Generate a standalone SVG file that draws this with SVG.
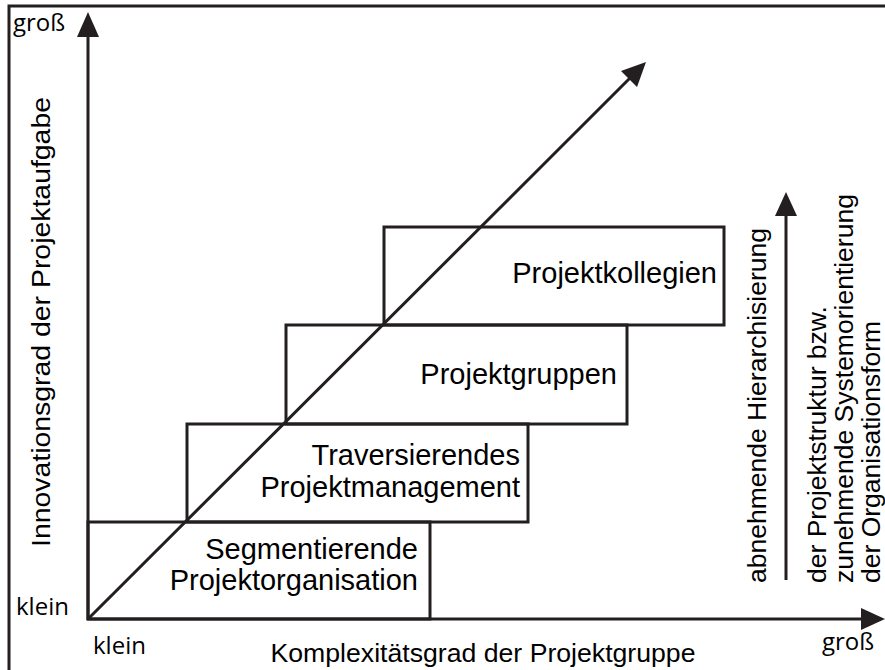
<svg xmlns="http://www.w3.org/2000/svg" width="885" height="670" viewBox="0 0 885 670">
  <style>
    .ln { stroke: #231f20; stroke-width: 3; fill: none; }
    .hd { fill: #231f20; stroke: none; }
    .box { stroke: #231f20; stroke-width: 3; fill: none; }
    .lbl { font-family: "Liberation Sans", Arial, sans-serif; font-size: 29px; fill: #000; }
    .ax { font-family: "Liberation Sans", Arial, sans-serif; font-size: 26.5px; fill: #000; }
    .end { font-family: "Open Sans", "Noto Sans", sans-serif; font-size: 24px; fill: #000; }
  </style>
  <rect width="885" height="670" fill="#fff"/>
  <!-- frame (left and top edges) -->
  <path class="ln" d="M9,670 V6 H885"/>

  <!-- boxes -->
  <g id="segmentierende">
    <rect class="box" x="88" y="522" width="342" height="97"/>
    <text class="lbl" x="418" y="559" text-anchor="end">Segmentierende</text>
    <text class="lbl" x="418" y="590" text-anchor="end">Projektorganisation</text>
  </g>
  <g id="traversierende">
    <rect class="box" x="187" y="424" width="341" height="98"/>
    <text class="lbl" x="520" y="465" text-anchor="end">Traversierendes</text>
    <text class="lbl" x="520" y="497" text-anchor="end">Projektmanagement</text>
  </g>
  <g id="projektgruppen">
    <rect class="box" x="286" y="325" width="341" height="99"/>
    <text class="lbl" x="617" y="384" text-anchor="end">Projektgruppen</text>
  </g>
  <g id="projektkollegien">
    <rect class="box" x="384" y="227" width="340" height="98"/>
    <text class="lbl" x="717" y="283" text-anchor="end">Projektkollegien</text>
  </g>

  <!-- axes and arrows -->
  <g id="connectors">
    <line class="ln" x1="88" y1="620" x2="88" y2="34"/>
    <polygon class="hd" points="88,12 77,37 99,37"/>
    <line class="ln" x1="87" y1="619" x2="864" y2="619"/>
    <polygon class="hd" points="885,619 861,608 861,630"/>
    <line class="ln" x1="88" y1="619" x2="630" y2="78"/>
    <polygon class="hd" points="646,62 621,71 637,87"/>
    <line class="ln" x1="786" y1="580" x2="786" y2="214"/>
    <polygon class="hd" points="786,192 775,216 797,216"/>
  </g>

  <!-- axis labels -->
  <g id="axis-labels">
    <text class="end" x="13" y="31">groß</text>
    <text class="end" x="16" y="615">klein</text>
    <text class="end" x="93" y="654">klein</text>
    <text class="end" x="822" y="650">groß</text>
    <text class="ax" x="483" y="662" text-anchor="middle" textLength="425" lengthAdjust="spacingAndGlyphs">Komplexitätsgrad der Projektgruppe</text>
    <text class="ax" transform="translate(50,322) rotate(-90)" text-anchor="middle" font-size="28" textLength="450" lengthAdjust="spacingAndGlyphs">Innovationsgrad der Projektaufgabe</text>
    <text class="ax" transform="translate(766,583) rotate(-90)">abnehmende Hierarchisierung</text>
    <text class="ax" transform="translate(826,583) rotate(-90)">der Projektstruktur bzw.</text>
    <text class="ax" transform="translate(853,583) rotate(-90)">zunehmende Systemorientierung</text>
    <text class="ax" transform="translate(880,583) rotate(-90)">der Organisationsform</text>
  </g>
</svg>
